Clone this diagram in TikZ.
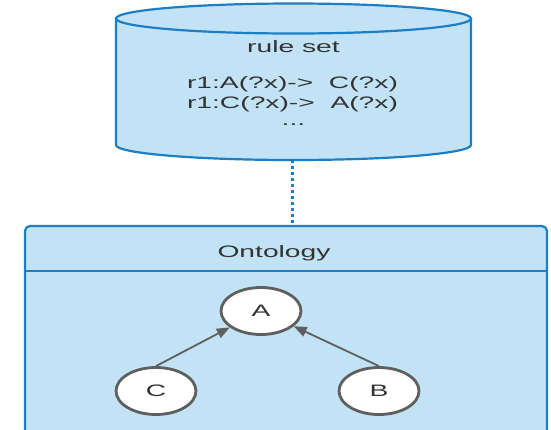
\documentclass[tikz,border=0pt]{standalone}
\usepackage{fontspec}
\setmainfont{Liberation Sans}
\usetikzlibrary{arrows.meta,shapes.geometric}
\definecolor{boxfill}{HTML}{C2E3F5}
\definecolor{boxline}{HTML}{1C7EC4}
\definecolor{txt}{HTML}{333333}
\definecolor{edge}{HTML}{5F5F5F}
\newcommand{\wide}[1]{\scalebox{1.7}[1]{#1}}
\tikzset{
  label text/.style={text=txt,font=\fontsize{16.6}{20}\selectfont,inner sep=0pt},
  concept/.style={ellipse,draw=edge,line width=2.8pt,fill=white,minimum width=80pt,minimum height=47pt,inner sep=0pt,text=txt,font=\fontsize{16.6}{20}\selectfont},
  subclass/.style={draw=edge,line width=1.8pt,-{Triangle[length=13pt,width=10pt]}},
}
\begin{document}
\begin{tikzpicture}[x=1pt,y=-1pt]
\useasboundingbox (0,0) rectangle (551,429);
\clip (0,0) rectangle (551,429);
% rule-set store (cylinder)
\fill[boxfill] (116,18.5) -- (116,145) arc[start angle=180,end angle=360,x radius=177.5,y radius=-15] -- (471,18.5) arc[start angle=0,end angle=180,x radius=177.5,y radius=-15] -- cycle;
\draw[boxline,line width=2.2pt] (116,18.5) -- (116,145) arc[start angle=180,end angle=360,x radius=177.5,y radius=-15] -- (471,18.5);
\draw[boxline,line width=2.2pt,fill=boxfill] (293.5,18.5) ellipse[x radius=177.5,y radius=15];
\coordinate (store) at (292.5,160);
\node[label text] (rs) at (293.5,47) {\wide{rule set}};
\node[label text] (r1) at (292.5,84) {\wide{r1:A(?x)->\ \ C(?x)}};
\node[label text] (r2) at (292.5,104) {\wide{r1:C(?x)->\ \ A(?x)}};
\node[label text] (r3) at (293.5,125) {\wide{...}};
% ontology package
\draw[boxline,line width=2.2pt,fill=boxfill,rounded corners=5pt] (25,226) rectangle (547,440);
\draw[boxline,line width=2.2pt] (25,271) -- (547,271);
\coordinate (pkg) at (292.5,226);
\node[label text] (onto) at (274,253) {\wide{Ontology}};
% link between store and ontology
\draw[boxline,line width=2.2pt,dash pattern=on 3pt off 3pt] (store) -- (pkg);
% class hierarchy
\node[concept] (A) at (261,311) {\wide{A}};
\node[concept] (C) at (156,391) {\wide{C}};
\node[concept] (B) at (379,391) {\wide{B}};
\draw[subclass] (C.north) -- (A);
\draw[subclass] (B.north) -- (A);
\end{tikzpicture}
\end{document}
